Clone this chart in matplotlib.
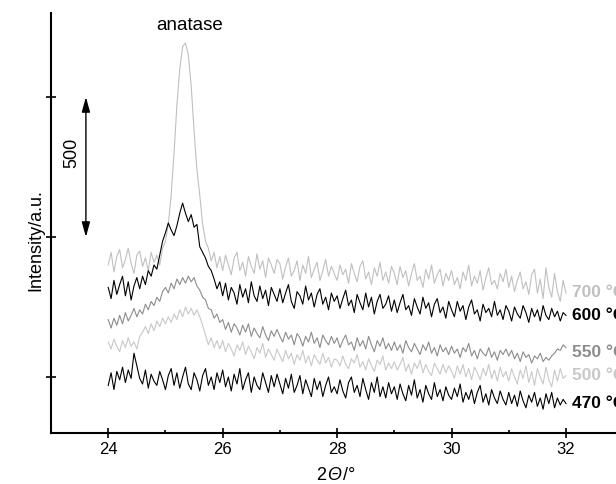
import numpy as np
import matplotlib.pyplot as plt
from matplotlib.offsetbox import TextArea, HPacker, AnchoredOffsetbox

plt.rcParams['font.family'] = ['Liberation Sans', 'DejaVu Sans']

# 2theta grid, 24..32 deg in 0.05 deg steps
two_theta = np.linspace(24, 32, 161)

# Intensities (a.u.), one row per degree
i_700 = [900, 945, 875, 930, 955, 890, 920, 960, 905, 870, 935, 950, 895, 925, 880, 945, 910, 935, 900, 960,
         985, 1045, 1150, 1300, 1470, 1600, 1680, 1693, 1650, 1540, 1380, 1240, 1150, 1045, 985, 960, 915, 945, 890, 930,
         880, 935, 900, 865, 925, 945, 880, 910, 860, 930, 895, 870, 940, 885, 915, 855, 925, 900, 870, 920,
         905, 850, 895, 925, 860, 880, 915, 845, 900, 870, 930, 855, 885, 910, 845, 880, 920, 860, 895, 870,
         845, 900, 865, 885, 835, 905, 870, 840, 895, 915, 850, 875, 830, 890, 860, 910, 845, 875, 835, 895,
         870, 830, 895, 855, 880, 825, 870, 905, 845, 860, 820, 885, 850, 900, 835, 865, 885, 825, 870, 845,
         880, 830, 855, 815, 875, 845, 900, 825, 860, 835, 880, 810, 855, 890, 830, 845, 815, 870, 840, 885,
         820, 860, 805, 845, 875, 815, 840, 795, 865, 885, 800, 850, 780, 890, 820, 785, 870, 805, 770, 845,
         800]

i_600 = [820, 780, 845, 795, 830, 860, 790, 840, 775, 825, 855, 815, 860, 830, 880, 860, 900, 885, 935, 985,
         1015, 1050, 1025, 1005, 1040, 1085, 1121, 1085, 1055, 1080, 1035, 1045, 965, 945, 925, 895, 880, 850, 815, 840,
         790, 835, 775, 820, 800, 760, 830, 785, 815, 765, 840, 790, 770, 825, 780, 810, 755, 820, 795, 770,
         815, 765, 800, 830, 770, 745, 805, 790, 760, 825, 775, 800, 750, 795, 815, 760, 785, 740, 800, 770,
         790, 745, 780, 810, 755, 775, 730, 795, 765, 740, 800, 750, 785, 725, 770, 795, 745, 760, 790, 735,
         775, 730, 765, 795, 740, 755, 720, 780, 750, 725, 785, 745, 765, 715, 760, 780, 730, 750, 710, 770,
         740, 715, 770, 735, 755, 705, 750, 775, 725, 740, 700, 760, 730, 745, 715, 770, 720, 740, 705, 755,
         735, 700, 750, 725, 710, 755, 730, 695, 745, 715, 740, 700, 755, 720, 705, 745, 715, 735, 700, 730,
         720]

i_550 = [705, 675, 710, 685, 720, 690, 730, 700, 720, 745, 715, 740, 725, 760, 740, 770, 755, 785, 770, 805,
         820, 800, 835, 815, 850, 830, 855, 835, 860, 840, 855, 825, 810, 785, 775, 745, 740, 710, 725, 695,
         705, 670, 695, 660, 690, 675, 650, 685, 660, 690, 645, 675, 655, 640, 680, 650, 630, 665, 645, 670,
         645, 625, 660, 635, 650, 615, 655, 640, 610, 645, 625, 660, 620, 640, 605, 650, 630, 615, 645, 620,
         640, 605, 630, 650, 615, 625, 595, 640, 610, 630, 600, 645, 615, 590, 630, 610, 640, 600, 620, 595,
         625, 595, 615, 585, 630, 605, 590, 620, 600, 580, 615, 595, 625, 585, 605, 575, 615, 590, 605, 580,
         610, 585, 600, 570, 605, 590, 620, 575, 595, 565, 600, 585, 575, 605, 570, 590, 560, 595, 580, 600,
         575, 595, 565, 585, 555, 590, 570, 580, 550, 575, 565, 585, 555, 570, 560, 575, 585, 600, 595, 615,
         605]

i_500 = [625, 600, 635, 610, 590, 630, 605, 640, 610, 625, 600, 645, 660, 680, 655, 690, 665, 700, 680, 710,
         690, 715, 695, 725, 705, 740, 715, 750, 725, 745, 720, 740, 715, 685, 650, 615, 640, 605, 630, 600,
         630, 590, 620, 600, 575, 615, 595, 625, 580, 610, 590, 565, 605, 585, 620, 570, 600, 580, 560, 600,
         575, 555, 595, 565, 585, 545, 580, 560, 595, 550, 575, 540, 580, 560, 545, 585, 550, 570, 535, 565,
         560, 540, 575, 545, 530, 565, 550, 580, 535, 555, 525, 565, 540, 520, 560, 545, 575, 525, 550, 530,
         555, 525, 545, 570, 520, 545, 510, 550, 530, 560, 515, 545, 520, 505, 550, 530, 510, 545, 515, 540,
         520, 495, 540, 510, 545, 500, 530, 490, 535, 515, 490, 530, 505, 545, 495, 525, 485, 535, 500, 520,
         485, 530, 500, 475, 525, 495, 540, 480, 520, 470, 530, 500, 475, 535, 490, 465, 525, 485, 530, 495,
         505]

i_470 = [470, 515, 455, 520, 490, 535, 480, 525, 495, 585, 540, 495, 475, 525, 460, 510, 485, 470, 520, 490,
         455, 505, 530, 470, 515, 460, 500, 535, 475, 455, 515, 490, 450, 505, 530, 470, 500, 455, 515, 480,
         525, 465, 500, 450, 510, 475, 530, 455, 490, 515, 445, 500, 470, 455, 515, 480, 445, 505, 465, 510,
         475, 440, 495, 460, 510, 445, 470, 505, 440, 490, 460, 430, 495, 455, 485, 430, 470, 500, 445, 465,
         440, 490, 450, 425, 480, 500, 445, 470, 430, 495, 455, 420, 480, 445, 500, 430, 465, 425, 480, 440,
         465, 420, 475, 440, 415, 470, 435, 490, 425, 455, 410, 470, 440, 420, 480, 430, 455, 415, 465, 435,
         420, 460, 430, 475, 410, 445, 420, 455, 405, 445, 470, 410, 440, 400, 455, 425, 405, 450, 420, 400,
         445, 405, 435, 395, 450, 415, 390, 435, 410, 445, 395, 425, 385, 440, 405, 445, 390, 425, 400, 420,
         405]

labels = ['700 °C', '600 °C', '550 °C', '500 °C', '470 °C']
label_y = [800, 721, 586, 507, 404]
colors = ['#c0c0c0', 'black', '#8c8c8c', '#c8c8c8', 'black']
series = [i_700, i_600, i_550, i_500, i_470]

fig = plt.figure(figsize=(6.16, 4.84), dpi=100)
ax = fig.add_axes([0.0828, 0.1054, 0.9172, 0.8677])

for data, c in zip(series, colors):
    ax.plot(two_theta, data, color=c, lw=0.8)

for lab, ly, c in zip(labels, label_y, colors):
    ax.text(32.1, ly, lab, color=c, fontsize=12.5, fontweight='bold',
            ha='left', va='center', clip_on=False)

ax.text(25.42, 1757, 'anatase', fontsize=13.5, ha='center', va='center')

# scale bar
ax.annotate('', xy=(23.61, 1500), xytext=(23.61, 1000),
            arrowprops=dict(arrowstyle='<|-|>,head_length=0.9,head_width=0.25',
                            color='black', lw=1, shrinkA=0, shrinkB=0, mutation_scale=10))
ax.text(23.36, 1300, '500', rotation=90, fontsize=13, ha='center', va='center')

ax.set_xlim(23.0, 32.874)
ax.set_ylim(300, 1800)
ax.set_xticks([24, 26, 28, 30, 32])
ax.set_xticks([25, 27, 29, 31], minor=True)
ax.set_yticks([500, 1000, 1500])
ax.set_yticklabels([])

ax.spines['top'].set_visible(False)
ax.spines['right'].set_visible(False)
ax.spines['left'].set_linewidth(1.5)
ax.spines['bottom'].set_linewidth(1.5)
ax.tick_params(which='major', direction='inout', length=7, width=1.2, labelsize=12, pad=3)
ax.tick_params(which='minor', direction='in', length=2.5, width=1.2)

# x label: 2 Θ(italic) /°
parts = [TextArea('2', textprops=dict(fontsize=13)),
         TextArea('Θ', textprops=dict(fontsize=13, style='italic')),
         TextArea('/°', textprops=dict(fontsize=13))]
xlab = AnchoredOffsetbox(loc='upper center', child=HPacker(children=parts, sep=1, pad=0),
                         bbox_to_anchor=(0.504, -0.08), bbox_transform=ax.transAxes,
                         frameon=False, pad=0, borderpad=0)
ax.add_artist(xlab)

ax.set_ylabel('Intensity/a.u.', fontsize=13)
ax.yaxis.set_label_coords(-0.012, 0.46)

fig.savefig('out.png', dpi=100)
